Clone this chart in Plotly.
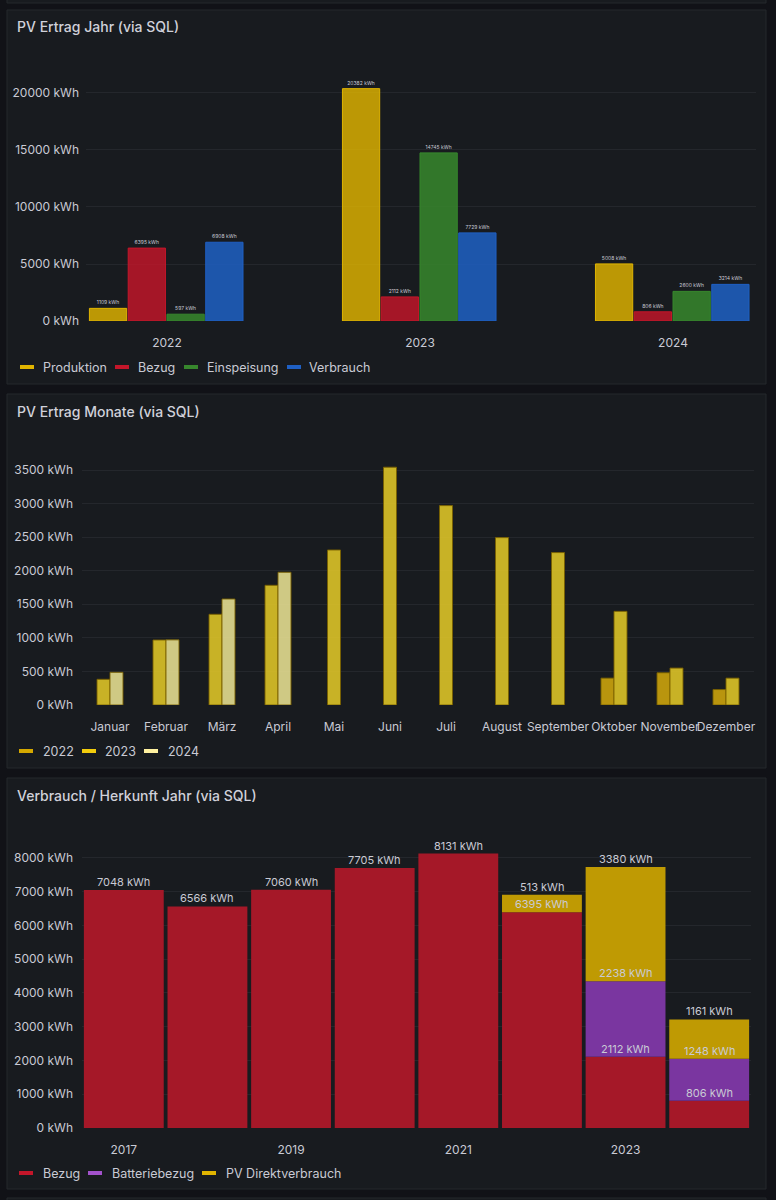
import plotly.graph_objects as go

W, H = 776, 1200

# ---------------- data ----------------
# Panel 1: PV Ertrag Jahr
years_p1 = ["2022", "2023", "2024"]
produktion = [1109, 20382, 5008]
bezug_p1 = [6395, 2112, 806]
einspeisung = [597, 14745, 2600]
verbrauch = [6908, 7729, 3214]
ticks_p1 = [0, 5000, 10000, 15000, 20000]

# Panel 2: PV Ertrag Monate
months = ["Januar", "Februar", "März", "April", "Mai", "Juni", "Juli",
          "August", "September", "Oktober", "November", "Dezember"]
m2022 = [None, None, None, None, None, None, None, None, None, 400, 480, 230]
m2023 = [383, 968, 1351, 1783, 2309, 3542, 2970, 2493, 2270, 1395, 550, 400]
m2024 = [487, 970, 1579, 1977, None, None, None, None, None, None, None, None]
ticks_p2 = [0, 500, 1000, 1500, 2000, 2500, 3000, 3500]

# Panel 3: Verbrauch / Herkunft Jahr
years_p3 = [2017, 2018, 2019, 2020, 2021, 2022, 2023, 2024]
bezug_p3 = [7048, 6566, 7060, 7705, 8131, 6395, 2112, 806]
batteriebezug = [None, None, None, None, None, None, 2238, 1248]
pv_direkt = [None, None, None, None, None, 513, 3380, 1161]
ticks_p3 = [0, 1000, 2000, 3000, 4000, 5000, 6000, 7000, 8000]
xticks_p3 = [2017, 2019, 2021, 2023]

# ---------------- style ----------------
PAGE_BG = "#111217"
PANEL_BG = "#181b1f"
BORDER = "#25282d"
TXT = "#c9cad4"
TITLE = "#d0d1da"
GRID = "rgba(204,204,220,0.07)"
FONT = "Inter"


def xd(px):
    return px / W


def yd(py):
    return 1 - py / H


def kwh(vals):
    return [f"{v} kWh" for v in vals]


fig = go.Figure()
shapes = []
annotations = []

# panel backgrounds
for (x0, y0, x1, y1) in [(7, -20, 766, 3), (7, 10, 766, 384), (7, 394, 766, 768),
                         (7, 778, 766, 1189), (7, 1198, 766, 1230)]:
    shapes.append(dict(type="rect", xref="paper", yref="paper",
                       x0=xd(x0), x1=xd(x1), y0=yd(y1), y1=yd(y0),
                       fillcolor=PANEL_BG, line=dict(color=BORDER, width=1), layer="below"))

for text, py in [("PV Ertrag Jahr (via SQL)", 27), ("PV Ertrag Monate (via SQL)", 411),
                 ("Verbrauch / Herkunft Jahr (via SQL)", 795)]:
    annotations.append(dict(text=text, xref="paper", yref="paper", x=xd(15), y=yd(py),
                            xanchor="left", yanchor="middle", showarrow=False,
                            font=dict(family=FONT, size=14, color=TITLE, weight=500)))

# ---------------- Panel 1 ----------------
p1_series = [("Produktion", produktion, "rgba(224,180,0,0.82)", "#E0B400"),
             ("Bezug", bezug_p1, "rgba(196,22,42,0.82)", "#C4162A"),
             ("Einspeisung", einspeisung, "rgba(55,135,45,0.85)", "#37872D"),
             ("Verbrauch", verbrauch, "rgba(31,96,196,0.85)", "#1F60C4")]
gw = 0.613
n1 = len(p1_series)
for j, (name, vals, fill, line) in enumerate(p1_series):
    fig.add_trace(go.Bar(
        x=years_p1, y=vals, name=name, xaxis="x", yaxis="y",
        offset=-gw / 2 + j * gw / n1, width=gw / n1 - 0.006,
        marker=dict(color=fill, line=dict(color=line, width=1)),
        text=kwh(vals), textposition="outside",
        textfont=dict(family=FONT, size=5, color=TXT), cliponaxis=False,
        showlegend=False))

# ---------------- Panel 2 ----------------
p2_series = [("2022", m2022, "rgba(214,170,12,0.85)", "#D4A800"),
             ("2023", m2023, "rgba(232,204,40,0.85)", "#F2CC0C"),
             ("2024", m2024, "rgba(240,232,150,0.85)", "#FFF1A0")]
bw = 13 / 56
present = [[s[1][i] is not None for s in p2_series] for i in range(len(months))]
for j, (name, vals, fill, line) in enumerate(p2_series):
    offs = []
    for i in range(len(months)):
        n = sum(present[i])
        k = sum(present[i][:j])
        offs.append((k - n / 2) * bw)
    fig.add_trace(go.Bar(
        x=list(range(len(months))), y=vals, name=name, xaxis="x2", yaxis="y2",
        offset=offs, width=bw,
        marker=dict(color=fill, line=dict(color="rgba(120,95,0,0.9)", width=1)),
        showlegend=False))

# ---------------- Panel 3 ----------------
p3_series = [("Bezug", bezug_p3, "#a51828", "#C4162A"),
             ("Batteriebezug", batteriebezug, "#7a36a0", "#A352CC"),
             ("PV Direktverbrauch", pv_direkt, "#bf9a03", "#E0B400")]
base = [0] * len(years_p3)
for name, vals, fill, line in p3_series:
    fig.add_trace(go.Bar(
        x=years_p3, y=vals, base=list(base), name=name, xaxis="x3", yaxis="y3",
        width=0.955, marker=dict(color=fill, line=dict(width=0)), showlegend=False))
    for i, v in enumerate(vals):
        if v is not None:
            annotations.append(dict(text=f"{v} kWh", xref="x3", yref="y3", x=years_p3[i],
                                    y=base[i] + v, yanchor="bottom", showarrow=False,
                                    yshift=-1,
                                    font=dict(family=FONT, size=11, color=TXT)))
            base[i] += v


# ---------------- legends ----------------
def legend(items, py):
    for (name, color, sx, tx) in items:
        shapes.append(dict(type="rect", xref="paper", yref="paper",
                           x0=xd(sx), x1=xd(sx + 14), y0=yd(py + 2), y1=yd(py - 2),
                           fillcolor=color, line=dict(width=0)))
        annotations.append(dict(text=name, xref="paper", yref="paper", x=xd(tx), y=yd(py),
                                xanchor="left", yanchor="middle", showarrow=False,
                                font=dict(family=FONT, size=12.5, color=TXT)))


legend([(p1_series[0][0], p1_series[0][3], 20, 41), (p1_series[1][0], p1_series[1][3], 115, 136),
        (p1_series[2][0], p1_series[2][3], 184, 205), (p1_series[3][0], p1_series[3][3], 287, 307)], 367)
legend([(p2_series[0][0], p2_series[0][3], 19, 41), (p2_series[1][0], p2_series[1][3], 82, 103),
        (p2_series[2][0], p2_series[2][3], 144, 166)], 751)
legend([(p3_series[0][0], p3_series[0][3], 19, 41), (p3_series[1][0], p3_series[1][3], 88, 110),
        (p3_series[2][0], p3_series[2][3], 202, 224)], 1173)

tickfont = dict(family=FONT, size=12, color=TXT)
yax = dict(showgrid=True, gridcolor=GRID, gridwidth=1, zeroline=False, showline=False,
           tickmode="array", tickfont=tickfont, ticks="", ticklabelstandoff=6,
           automargin=False, fixedrange=True)
xax = dict(showgrid=False, zeroline=False, showline=False, tickfont=tickfont, ticks="",
           ticklabelstandoff=13, tickangle=0, automargin=False, fixedrange=True)

fig.update_layout(
    width=W, height=H, margin=dict(l=0, r=0, t=0, b=0, pad=0, autoexpand=False),
    paper_bgcolor=PAGE_BG, plot_bgcolor="rgba(0,0,0,0)",
    barmode="overlay", showlegend=False,
    font=dict(family=FONT, color=TXT),
    xaxis=dict(xax, domain=[xd(86), xd(756)], anchor="y", type="category",
               range=[-0.32, 2.328]),
    yaxis=dict(yax, domain=[yd(321), yd(50)], anchor="x", range=[0, 23770],
               tickvals=ticks_p1, ticktext=kwh(ticks_p1)),
    xaxis2=dict(xax, domain=[xd(82), xd(754)], anchor="y2", range=[-0.5, 11.5],
                tickmode="array", tickvals=list(range(len(months))), ticktext=months),
    yaxis2=dict(yax, domain=[yd(705), yd(440)], anchor="x2", range=[0, 3947],
                tickvals=ticks_p2, ticktext=kwh(ticks_p2), ticklabelstandoff=8),
    xaxis3=dict(xax, domain=[xd(82), xd(751)], anchor="y3", range=[2016.5, 2024.5],
                tickmode="array", tickvals=xticks_p3, ticktext=[str(v) for v in xticks_p3]),
    yaxis3=dict(yax, domain=[yd(1128), yd(835)], anchor="x3", range=[0, 8681],
                tickvals=ticks_p3, ticktext=kwh(ticks_p3), ticklabelstandoff=8),
    shapes=shapes, annotations=annotations,
)

fig.write_html(
    "out.html",
    config={"displayModeBar": False, "responsive": False},
    post_script="document.body.style.margin='0';document.body.style.overflow='hidden';",
)
